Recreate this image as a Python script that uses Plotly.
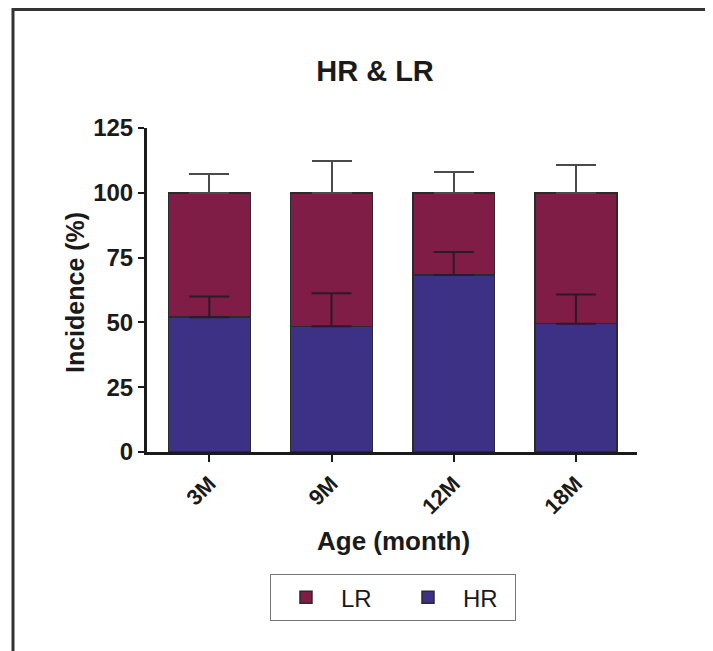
import plotly.graph_objects as go

categories = ["3M", "9M", "12M", "18M"]
hr_values = [52.0, 48.5, 68.3, 49.5]
lr_values = [48.0, 51.5, 31.7, 50.5]
hr_errors = [8.0, 12.7, 8.9, 11.3]
lr_errors = [7.4, 12.3, 8.0, 10.8]
y_ticks = [0, 25, 50, 75, 100, 125]

FONT = "Liberation Sans, Arial, sans-serif"
HR_COLOR = "#3d3185"
LR_COLOR = "#7f1d47"
EDGE = "#2b2b2b"

# figure is offset by the 8px body margin of the page
W, H = 705, 643
L, T = 139, 120
PW, PH = 490, 324

fig = go.Figure()
fig.add_trace(go.Bar(
    x=categories, y=hr_values, name="HR",
    marker=dict(color=HR_COLOR, line=dict(color=EDGE, width=1.5)),
    width=0.67,
))
fig.add_trace(go.Bar(
    x=categories, y=lr_values, name="LR",
    marker=dict(color=LR_COLOR, line=dict(color=EDGE, width=1.5)),
    error_y=dict(type="data", array=lr_errors, symmetric=False,
                 arrayminus=[0] * len(lr_errors),
                 color="#4a4a4a", thickness=2, width=20),
    width=0.67,
))
# HR error bars drawn above the stacked LR segments
fig.add_trace(go.Scatter(
    x=categories, y=hr_values, mode="markers", showlegend=False,
    marker=dict(size=1, opacity=0), hoverinfo="skip",
    error_y=dict(type="data", array=hr_errors, symmetric=False,
                 arrayminus=[0] * len(hr_errors),
                 color="#2a1a2a", thickness=2, width=20),
))

fig.update_layout(
    barmode="stack",
    width=W, height=H,
    margin=dict(l=L, r=W - L - PW, t=T, b=H - T - PH, autoexpand=False),
    paper_bgcolor="white", plot_bgcolor="white",
    font=dict(family=FONT, color="#1a1a1a"),
    title=dict(text="<b>HR & LR</b>", x=367 / W, xanchor="center",
               y=1 - 63 / H, yanchor="middle",
               font=dict(size=29, family=FONT, color="#1a1a1a")),
    showlegend=True,
    legend=dict(orientation="h", traceorder="reversed",
                x=0.251, xanchor="left", y=-0.377, yanchor="top",
                bordercolor="#777", borderwidth=1, itemwidth=60,
                font=dict(size=24, family=FONT, color="#1a1a1a"),
                entrywidth=47, entrywidthmode="pixels"),
    xaxis=dict(
        range=[-0.51, 3.5], showgrid=False, zeroline=False,
        showline=True, linecolor="#1a1a1a", linewidth=3,
        ticks="outside", ticklen=7, tickwidth=2, tickcolor="#1a1a1a",
        tickangle=-45,
        tickfont=dict(size=22, family=FONT, color="#1a1a1a", weight="bold"),
    ),
    yaxis=dict(
        range=[0, 125], tickvals=y_ticks, showgrid=False, zeroline=False,
        showline=True, linecolor="#1a1a1a", linewidth=3,
        ticks="outside", ticklen=6, tickwidth=2, tickcolor="#1a1a1a",
        tickfont=dict(size=24, family=FONT, color="#1a1a1a", weight="bold"),
    ),
    annotations=[
        dict(text="<b>Incidence (%)</b>", xref="paper", yref="paper",
             x=(75 - 147) / PW, y=(452 - 293) / PH, textangle=-90,
             showarrow=False, xanchor="center", yanchor="middle",
             font=dict(size=25, family=FONT, color="#1a1a1a")),
        dict(text="<b>Age (month)</b>", xref="paper", yref="paper",
             x=(393 - 147) / PW, y=(452 - 541) / PH,
             showarrow=False, xanchor="center", yanchor="middle",
             font=dict(size=26, family=FONT, color="#1a1a1a")),
    ],
    shapes=[
        dict(type="rect", xref="paper", yref="paper",
             x0=(5 - L) / PW, x1=(730 - L) / PW,
             y0=(T + PH - 670) / PH, y1=(T + PH - 1.5) / PH,
             line=dict(color="#333", width=3), layer="below"),
    ],
)

fig.write_html("out.html")
